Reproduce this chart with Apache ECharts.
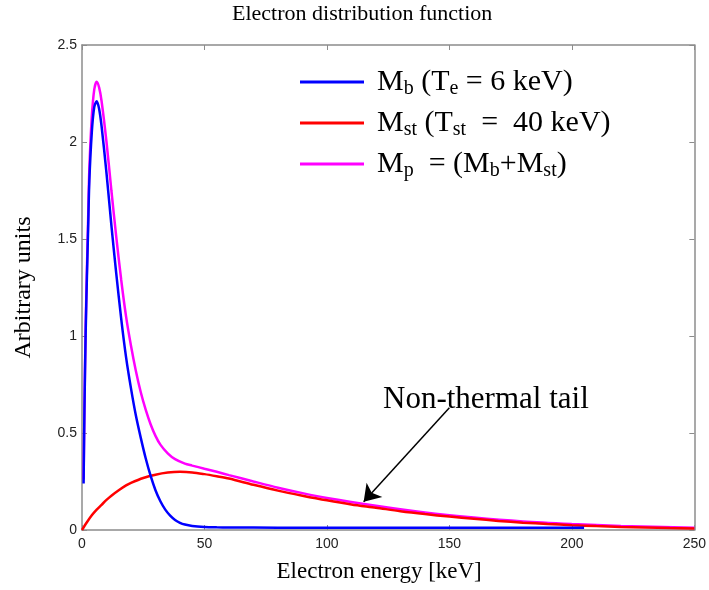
<!DOCTYPE html>
<html>
<head>
<meta charset="utf-8">
<script src="https://cdn.jsdelivr.net/npm/echarts@6/dist/echarts.min.js"></script>
<style>
html, body { margin: 0; padding: 0; background: #fff; }
#myChart { width: 709px; height: 590px; }
</style>
</head>
<body>
<div id="myChart"></div>
<script>
// 数据 (keV, 任意单位)
const mbEnergy = [0.65, 1, 1.5, 2, 2.5, 3, 4, 5, 6, 7, 8, 10, 12, 14, 16, 18, 20, 22, 24, 26, 28, 30, 32, 34, 36, 38, 40, 42, 45, 50, 55, 60, 80, 100, 150, 205]
const mbValues = [0.24, 0.62, 1.02, 1.30, 1.55, 1.80, 2.05, 2.18, 2.21, 2.17, 2.08, 1.84, 1.57, 1.32, 1.09, 0.89, 0.73, 0.59, 0.475, 0.37, 0.28, 0.205, 0.148, 0.105, 0.074, 0.052, 0.037, 0.028, 0.021, 0.016, 0.014, 0.013, 0.012, 0.012, 0.011, 0.011]

const mstEnergy = [0, 2, 4, 6, 8, 10, 12, 15, 18, 20, 25, 30, 35, 40, 45, 50, 55, 60, 70, 80, 90, 100, 110, 120, 130, 140, 150, 160, 170, 180, 190, 200, 210, 220, 230, 240, 250]
const mstValues = [0, 0.04, 0.076, 0.105, 0.13, 0.155, 0.177, 0.205, 0.23, 0.243, 0.268, 0.285, 0.296, 0.30, 0.297, 0.288, 0.277, 0.265, 0.233, 0.203, 0.177, 0.153, 0.132, 0.115, 0.097, 0.082, 0.069, 0.058, 0.047, 0.038, 0.031, 0.025, 0.020, 0.016, 0.013, 0.010, 0.008]

const mpEnergy = [0.65, 1, 1.5, 2, 2.5, 3, 4, 5, 6, 7, 8, 10, 12, 14, 16, 18, 20, 22, 24, 26, 28, 30, 32, 35, 38, 42, 45, 50, 55, 60, 70, 80, 90, 100, 120, 140, 160, 180, 200, 220, 250]
const mpValues = [0.26, 0.64, 1.05, 1.34, 1.60, 1.86, 2.13, 2.27, 2.31, 2.28, 2.21, 2.00, 1.75, 1.51, 1.29, 1.10, 0.95, 0.82, 0.71, 0.62, 0.545, 0.485, 0.44, 0.395, 0.365, 0.342, 0.332, 0.316, 0.30, 0.283, 0.25, 0.218, 0.19, 0.165, 0.125, 0.09, 0.064, 0.044, 0.031, 0.021, 0.011]

// 箭头起点和终点 (keV, 值)
const arrowFrom = [150, 0.63]
const arrowTo = [115, 0.146]

const xTicks = { min: 0, max: 250, interval: 50 }
const yTicks = { min: 0, max: 2.5, interval: 0.5 }

const serif = 'Liberation Serif, Times New Roman, serif'
const sans = 'Liberation Sans, Arial, sans-serif'
const frameColor = '#8c8c8c'

function pairs(xs, ys) {
  return xs.map((x, i) => [x, ys[i]])
}

const legendText = {
  Mb: '{g|}{m|M}{s|b}{m| (T}{s|e}{m| = 6 keV)}',
  Mst: '{g|}{m|M}{s|st}{m| (T}{s|st}{m|  =  40 keV)}',
  Mp: '{g|}{m|M}{s|p}{m|  = (M}{s|b}{m|+M}{s|st}{m|)}',
}

function axisBase(pos, t) {
  return {
    type: 'value',
    position: pos,
    min: t.min,
    max: t.max,
    interval: t.interval,
    splitLine: { show: false },
    axisLine: { onZero: false, lineStyle: { color: frameColor, width: 1.5 } },
    axisTick: { inside: true, length: 5, lineStyle: { color: frameColor, width: 1 } },
  }
}

function curve(name, xs, ys, color, z) {
  return {
    name: name,
    type: 'line',
    z: z,
    data: pairs(xs, ys),
    smooth: 0.3,
    symbol: 'none',
    color: color,
    lineStyle: { width: 2.5, color: color },
  }
}

let myChart = echarts.init(document.getElementById('myChart'))
myChart.setOption({
  animation: false,
  backgroundColor: '#fff',
  title: {
    text: 'Electron distribution function',
    left: 232,
    top: 3,
    padding: 0,
    textStyle: { fontFamily: serif, fontSize: 22, fontWeight: 'normal', color: '#000' },
  },
  grid: { left: 82, right: 12, top: 45, bottom: 60, containLabel: false },
  legend: {
    orient: 'vertical',
    left: 300,
    top: 67,
    padding: 0,
    itemWidth: 64,
    itemHeight: 3,
    itemGap: 9,
    icon: 'rect',
    selectedMode: false,
    formatter: name => legendText[name],
    textStyle: {
      color: '#000',
      fontFamily: serif,
      fontSize: 30,
      rich: {
        g: { width: 8 },
        m: { fontFamily: serif, fontSize: 30, lineHeight: 34, color: '#000' },
        s: { fontFamily: serif, fontSize: 20, lineHeight: 22, verticalAlign: 'bottom', color: '#000' },
      },
    },
    data: ['Mb', 'Mst', 'Mp'],
  },
  xAxis: [
    Object.assign(axisBase('bottom', xTicks), {
      name: 'Electron energy [keV]',
      nameLocation: 'middle',
      nameGap: 30,
      nameTextStyle: { fontFamily: serif, fontSize: 23, color: '#000', padding: [0, 18, 0, 0] },
      axisLabel: { margin: 7, color: '#222', fontFamily: sans, fontSize: 14 },
    }),
    Object.assign(axisBase('top', xTicks), { axisLabel: { show: false } }),
  ],
  yAxis: [
    Object.assign(axisBase('left', yTicks), {
      name: 'Arbitrary units',
      nameLocation: 'middle',
      nameGap: 46,
      nameTextStyle: { fontFamily: serif, fontSize: 24, color: '#000' },
      axisLabel: { margin: 5, color: '#222', fontFamily: sans, fontSize: 14 },
    }),
    Object.assign(axisBase('right', yTicks), { axisLabel: { show: false } }),
  ],
  graphic: [
    {
      type: 'text',
      left: 383,
      top: 384,
      style: { text: 'Non-thermal tail', font: '31px ' + serif, fill: '#000' },
    },
  ],
  series: [
    curve('Mb', mbEnergy, mbValues, '#0000ff', 4),
    Object.assign(curve('Mst', mstEnergy, mstValues, '#ff0000', 3), {
      markLine: {
        silent: true,
        symbol: ['none', 'arrow'],
        symbolSize: 16,
        label: { show: false },
        lineStyle: { color: '#000', width: 1.5, type: 'solid' },
        data: [[{ coord: arrowFrom }, { coord: arrowTo }]],
      },
    }),
    curve('Mp', mpEnergy, mpValues, '#ff00ff', 2),
  ],
})
</script>
</body>
</html>
